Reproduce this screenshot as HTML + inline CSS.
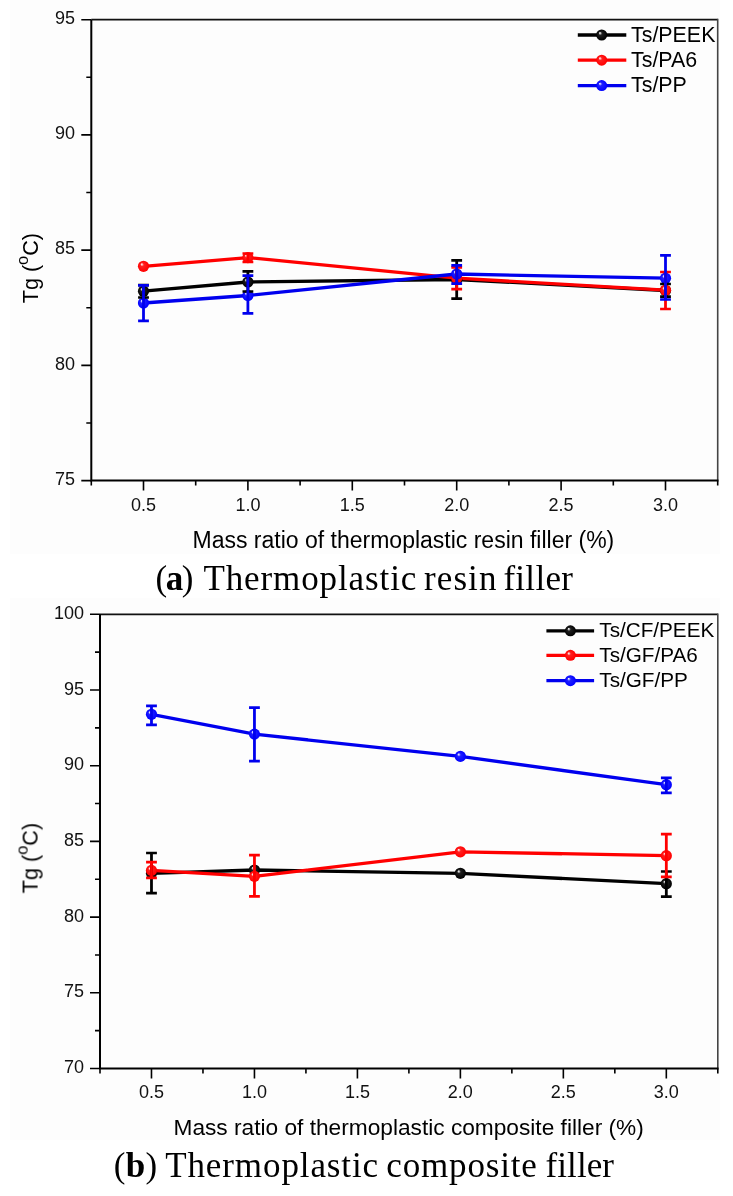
<!DOCTYPE html>
<html><head><meta charset="utf-8"><style>
html,body{margin:0;padding:0;background:#fff;width:733px;height:1196px;overflow:hidden;position:relative}
.tk{font-family:"Liberation Sans",sans-serif;font-size:18px;fill:#111}
.lg{font-family:"Liberation Sans",sans-serif;font-size:20.7px;fill:#000}
.al{font-family:"Liberation Sans",sans-serif;font-size:23px;fill:#000}
.sup{font-size:16.5px}
.cap{font-family:"Liberation Serif",serif;font-size:35px;fill:#000}
</style></head><body>
<svg width="733" height="1196" viewBox="0 0 733 1196" style="position:absolute;left:0;top:0;will-change:transform">
<defs>
<radialGradient id="gk" cx="0.5" cy="0.5" r="0.5" fx="0.32" fy="0.3"><stop offset="0" stop-color="#f4f4f4"/><stop offset="0.12" stop-color="#c8c8c8"/><stop offset="0.32" stop-color="#202020"/><stop offset="1" stop-color="#000"/></radialGradient>
<radialGradient id="gr" cx="0.5" cy="0.5" r="0.5" fx="0.32" fy="0.3"><stop offset="0" stop-color="#fff4f4"/><stop offset="0.12" stop-color="#ffc0c0"/><stop offset="0.32" stop-color="#ff2020"/><stop offset="1" stop-color="#f00"/></radialGradient>
<radialGradient id="gb" cx="0.5" cy="0.5" r="0.5" fx="0.32" fy="0.3"><stop offset="0" stop-color="#f4f4ff"/><stop offset="0.12" stop-color="#c0c0ff"/><stop offset="0.32" stop-color="#2020ff"/><stop offset="1" stop-color="#00f"/></radialGradient>
</defs>
<rect x="10" y="0" width="710" height="554" fill="#fdfdfd"/>
<rect x="10" y="598" width="710" height="542" fill="#fdfdfd"/>
<path d="M91.3 19.7H717.7" fill="none" stroke="#111" stroke-width="1.8"/><path d="M717.7 18.8V480.6" fill="none" stroke="#444" stroke-width="1.6"/>
<path d="M91.3 19.7V481.40000000000003M90.5 480.6H718.5" fill="none" stroke="#000" stroke-width="2"/>
<text x="75" y="484.80" text-anchor="end" class="tk">75</text>
<text x="75" y="369.57" text-anchor="end" class="tk">80</text>
<text x="75" y="254.35" text-anchor="end" class="tk">85</text>
<text x="75" y="139.12" text-anchor="end" class="tk">90</text>
<text x="75" y="23.90" text-anchor="end" class="tk">95</text>
<text x="143.50" y="510.5" text-anchor="middle" class="tk">0.5</text>
<text x="247.90" y="510.5" text-anchor="middle" class="tk">1.0</text>
<text x="352.30" y="510.5" text-anchor="middle" class="tk">1.5</text>
<text x="456.70" y="510.5" text-anchor="middle" class="tk">2.0</text>
<text x="561.10" y="510.5" text-anchor="middle" class="tk">2.5</text>
<text x="665.50" y="510.5" text-anchor="middle" class="tk">3.0</text>
<path d="M81.3 480.60H91.3M86.3 422.99H91.3M81.3 365.38H91.3M86.3 307.76H91.3M81.3 250.15H91.3M86.3 192.54H91.3M81.3 134.92H91.3M86.3 77.31H91.3M81.3 19.70H91.3M91.30 480.6v5M195.70 480.6v5M300.10 480.6v5M404.50 480.6v5M508.90 480.6v5M613.30 480.6v5M717.70 480.6v5M143.50 480.6v10M247.90 480.6v10M352.30 480.6v10M456.70 480.6v10M561.10 480.6v10M665.50 480.6v10" stroke="#000" stroke-width="1.6"/>
<path d="M143.50 291.20L247.90 282.00L456.70 279.50L665.50 290.50" fill="none" stroke="#000000" stroke-width="3.3" stroke-linejoin="round"/>
<path d="M143.50 266.30L247.90 257.60L456.70 278.20L665.50 290.20" fill="none" stroke="#ff0000" stroke-width="3.3" stroke-linejoin="round"/>
<path d="M143.50 303.00L247.90 295.50L456.70 274.00L665.50 278.20" fill="none" stroke="#0000ee" stroke-width="3.3" stroke-linejoin="round"/>
<circle cx="143.50" cy="291.2" r="5.6" fill="url(#gk)"/>
<circle cx="247.90" cy="282.0" r="5.6" fill="url(#gk)"/>
<circle cx="456.70" cy="279.5" r="5.6" fill="url(#gk)"/>
<circle cx="665.50" cy="290.5" r="5.6" fill="url(#gk)"/>
<circle cx="143.50" cy="266.3" r="5.6" fill="url(#gr)"/>
<circle cx="247.90" cy="257.6" r="5.6" fill="url(#gr)"/>
<circle cx="456.70" cy="278.2" r="5.6" fill="url(#gr)"/>
<circle cx="665.50" cy="290.2" r="5.6" fill="url(#gr)"/>
<circle cx="143.50" cy="303.0" r="5.6" fill="url(#gb)"/>
<circle cx="247.90" cy="295.5" r="5.6" fill="url(#gb)"/>
<circle cx="456.70" cy="274.0" r="5.6" fill="url(#gb)"/>
<circle cx="665.50" cy="278.2" r="5.6" fill="url(#gb)"/>
<path d="M143.50 285.1V297.5" stroke="#000000" stroke-width="2.8" fill="none"/><path d="M138.10 285.1h10.8M138.10 297.5h10.8" stroke="#000000" stroke-width="2.7" fill="none"/>
<path d="M247.90 271.4V291.5" stroke="#000000" stroke-width="2.8" fill="none"/><path d="M242.50 271.4h10.8M242.50 291.5h10.8" stroke="#000000" stroke-width="2.7" fill="none"/>
<path d="M456.70 260.4V298.6" stroke="#000000" stroke-width="2.8" fill="none"/><path d="M451.30 260.4h10.8M451.30 298.6h10.8" stroke="#000000" stroke-width="2.7" fill="none"/>
<path d="M665.50 284.0V296.7" stroke="#000000" stroke-width="2.8" fill="none"/><path d="M660.10 284.0h10.8M660.10 296.7h10.8" stroke="#000000" stroke-width="2.7" fill="none"/>
<path d="M247.90 253.5V262.0" stroke="#ff0000" stroke-width="2.8" fill="none"/><path d="M242.50 253.5h10.8M242.50 262.0h10.8" stroke="#ff0000" stroke-width="2.7" fill="none"/>
<path d="M456.70 267.3V289.1" stroke="#ff0000" stroke-width="2.8" fill="none"/><path d="M451.30 267.3h10.8M451.30 289.1h10.8" stroke="#ff0000" stroke-width="2.7" fill="none"/>
<path d="M665.50 272.0V309.0" stroke="#ff0000" stroke-width="2.8" fill="none"/><path d="M660.10 272.0h10.8M660.10 309.0h10.8" stroke="#ff0000" stroke-width="2.7" fill="none"/>
<path d="M143.50 285.3V320.9" stroke="#0000ee" stroke-width="2.8" fill="none"/><path d="M138.10 285.3h10.8M138.10 320.9h10.8" stroke="#0000ee" stroke-width="2.7" fill="none"/>
<path d="M247.90 275.6V313.4" stroke="#0000ee" stroke-width="2.8" fill="none"/><path d="M242.50 275.6h10.8M242.50 313.4h10.8" stroke="#0000ee" stroke-width="2.7" fill="none"/>
<path d="M456.70 265.3V283.7" stroke="#0000ee" stroke-width="2.8" fill="none"/><path d="M451.30 265.3h10.8M451.30 283.7h10.8" stroke="#0000ee" stroke-width="2.7" fill="none"/>
<path d="M665.50 255.4V299.5" stroke="#0000ee" stroke-width="2.8" fill="none"/><path d="M660.10 255.4h10.8M660.10 299.5h10.8" stroke="#0000ee" stroke-width="2.7" fill="none"/>
<path d="M577.8 35.0H626.3" stroke="#000000" stroke-width="3.3"/>
<circle cx="601.7" cy="35.0" r="5.5" fill="url(#gk)"/>
<text x="631" y="41.5" class="lg" style="font-size:21.4px">Ts/PEEK</text>
<path d="M577.8 60.199999999999996H626.3" stroke="#ff0000" stroke-width="3.3"/>
<circle cx="601.7" cy="60.199999999999996" r="5.5" fill="url(#gr)"/>
<text x="631" y="66.7" class="lg" style="font-size:21.4px">Ts/PA6</text>
<path d="M577.8 85.6H626.3" stroke="#0000ee" stroke-width="3.3"/>
<circle cx="601.7" cy="85.6" r="5.5" fill="url(#gb)"/>
<text x="631" y="92.1" class="lg" style="font-size:21.4px">Ts/PP</text>
<text transform="translate(37.6 303.3) rotate(-90)" class="al" style="font-size:21.6px">Tg (<tspan class="sup" dy="-10">o</tspan><tspan dy="10">C)</tspan></text>
<text x="192.5" y="547.8" class="al">Mass ratio of thermoplastic resin filler (%)</text>
<path d="M100.0 614.3H717.8" fill="none" stroke="#111" stroke-width="1.8"/><path d="M717.8 613.4V1068.5" fill="none" stroke="#444" stroke-width="1.6"/>
<path d="M100.0 614.3V1069.3M99.2 1068.5H718.5999999999999" fill="none" stroke="#000" stroke-width="2"/>
<text x="84" y="1073.10" text-anchor="end" class="tk">70</text>
<text x="84" y="997.40" text-anchor="end" class="tk">75</text>
<text x="84" y="921.70" text-anchor="end" class="tk">80</text>
<text x="84" y="846.00" text-anchor="end" class="tk">85</text>
<text x="84" y="770.30" text-anchor="end" class="tk">90</text>
<text x="84" y="694.60" text-anchor="end" class="tk">95</text>
<text x="84" y="618.90" text-anchor="end" class="tk">100</text>
<text x="151.48" y="1097.5" text-anchor="middle" class="tk">0.5</text>
<text x="254.45" y="1097.5" text-anchor="middle" class="tk">1.0</text>
<text x="357.42" y="1097.5" text-anchor="middle" class="tk">1.5</text>
<text x="460.38" y="1097.5" text-anchor="middle" class="tk">2.0</text>
<text x="563.35" y="1097.5" text-anchor="middle" class="tk">2.5</text>
<text x="666.32" y="1097.5" text-anchor="middle" class="tk">3.0</text>
<path d="M90.0 1068.50H100.0M95.0 1030.65H100.0M90.0 992.80H100.0M95.0 954.95H100.0M90.0 917.10H100.0M95.0 879.25H100.0M90.0 841.40H100.0M95.0 803.55H100.0M90.0 765.70H100.0M95.0 727.85H100.0M90.0 690.00H100.0M95.0 652.15H100.0M90.0 614.30H100.0M100.00 1068.5v5M202.97 1068.5v5M305.93 1068.5v5M408.90 1068.5v5M511.87 1068.5v5M614.83 1068.5v5M717.80 1068.5v5M151.48 1068.5v10M254.45 1068.5v10M357.42 1068.5v10M460.38 1068.5v10M563.35 1068.5v10M666.32 1068.5v10" stroke="#000" stroke-width="1.6"/>
<path d="M151.48 873.30L254.45 870.00L460.38 873.30L666.32 883.70" fill="none" stroke="#000000" stroke-width="3.3" stroke-linejoin="round"/>
<path d="M151.48 870.40L254.45 876.30L460.38 851.80L666.32 855.70" fill="none" stroke="#ff0000" stroke-width="3.3" stroke-linejoin="round"/>
<path d="M151.48 714.30L254.45 734.10L460.38 756.40L666.32 784.70" fill="none" stroke="#0000ee" stroke-width="3.3" stroke-linejoin="round"/>
<circle cx="151.48" cy="873.3" r="5.6" fill="url(#gk)"/>
<circle cx="254.45" cy="870.0" r="5.6" fill="url(#gk)"/>
<circle cx="460.38" cy="873.3" r="5.6" fill="url(#gk)"/>
<circle cx="666.32" cy="883.7" r="5.6" fill="url(#gk)"/>
<circle cx="151.48" cy="870.4" r="5.6" fill="url(#gr)"/>
<circle cx="254.45" cy="876.3" r="5.6" fill="url(#gr)"/>
<circle cx="460.38" cy="851.8" r="5.6" fill="url(#gr)"/>
<circle cx="666.32" cy="855.7" r="5.6" fill="url(#gr)"/>
<circle cx="151.48" cy="714.3" r="5.6" fill="url(#gb)"/>
<circle cx="254.45" cy="734.1" r="5.6" fill="url(#gb)"/>
<circle cx="460.38" cy="756.4" r="5.6" fill="url(#gb)"/>
<circle cx="666.32" cy="784.7" r="5.6" fill="url(#gb)"/>
<path d="M151.48 853.0V893.2" stroke="#000000" stroke-width="2.8" fill="none"/><path d="M146.08 853.0h10.8M146.08 893.2h10.8" stroke="#000000" stroke-width="2.7" fill="none"/>
<path d="M666.32 871.5V896.6" stroke="#000000" stroke-width="2.8" fill="none"/><path d="M660.92 871.5h10.8M660.92 896.6h10.8" stroke="#000000" stroke-width="2.7" fill="none"/>
<path d="M151.48 862.2V877.9" stroke="#ff0000" stroke-width="2.8" fill="none"/><path d="M146.08 862.2h10.8M146.08 877.9h10.8" stroke="#ff0000" stroke-width="2.7" fill="none"/>
<path d="M254.45 855.1V896.3" stroke="#ff0000" stroke-width="2.8" fill="none"/><path d="M249.05 855.1h10.8M249.05 896.3h10.8" stroke="#ff0000" stroke-width="2.7" fill="none"/>
<path d="M666.32 834.2V876.8" stroke="#ff0000" stroke-width="2.8" fill="none"/><path d="M660.92 834.2h10.8M660.92 876.8h10.8" stroke="#ff0000" stroke-width="2.7" fill="none"/>
<path d="M151.48 705.8V724.8" stroke="#0000ee" stroke-width="2.8" fill="none"/><path d="M146.08 705.8h10.8M146.08 724.8h10.8" stroke="#0000ee" stroke-width="2.7" fill="none"/>
<path d="M254.45 707.7V761.2" stroke="#0000ee" stroke-width="2.8" fill="none"/><path d="M249.05 707.7h10.8M249.05 761.2h10.8" stroke="#0000ee" stroke-width="2.7" fill="none"/>
<path d="M666.32 777.8V792.9" stroke="#0000ee" stroke-width="2.8" fill="none"/><path d="M660.92 777.8h10.8M660.92 792.9h10.8" stroke="#0000ee" stroke-width="2.7" fill="none"/>
<path d="M546.4 630.8H594.1" stroke="#000000" stroke-width="3.3"/>
<circle cx="570.4" cy="630.8" r="5.5" fill="url(#gk)"/>
<text x="599.3" y="637.3" class="lg" style="font-size:20.7px">Ts/CF/PEEK</text>
<path d="M546.4 655.3H594.1" stroke="#ff0000" stroke-width="3.3"/>
<circle cx="570.4" cy="655.3" r="5.5" fill="url(#gr)"/>
<text x="599.3" y="661.8" class="lg" style="font-size:20.7px">Ts/GF/PA6</text>
<path d="M546.4 680.6999999999999H594.1" stroke="#0000ee" stroke-width="3.3"/>
<circle cx="570.4" cy="680.6999999999999" r="5.5" fill="url(#gb)"/>
<text x="599.3" y="687.1999999999999" class="lg" style="font-size:20.7px">Ts/GF/PP</text>
<text transform="translate(37.6 893.3) rotate(-90)" class="al" style="font-size:21.6px">Tg (<tspan class="sup" dy="-10">o</tspan><tspan dy="10">C)</tspan></text>
<text x="173.5" y="1134.5" class="al" style="font-size:22.7px">Mass ratio of thermoplastic composite filler (%)</text>
<g class="cap">
<text x="155.5" y="589.7" style="letter-spacing:-1.5px">(<tspan font-weight="bold">a</tspan>)</text>
<text x="203.4" y="589.7" style="letter-spacing:0.9px">Thermoplastic</text>
<text x="424" y="589.7" style="letter-spacing:1.1px">resin</text>
<text x="503.4" y="589.7" style="letter-spacing:0.3px">filler</text>
</g>
<g class="cap">
<text x="113.7" y="1176.7" style="letter-spacing:0.3px">(<tspan font-weight="bold">b</tspan>)</text>
<text x="165.2" y="1176.7" style="letter-spacing:0.9px">Thermoplastic</text>
<text x="386.3" y="1176.7" style="letter-spacing:0.84px">composite</text>
<text x="545.5" y="1176.7" style="letter-spacing:0.1px">filler</text>
</g>
</svg>
</body></html>
